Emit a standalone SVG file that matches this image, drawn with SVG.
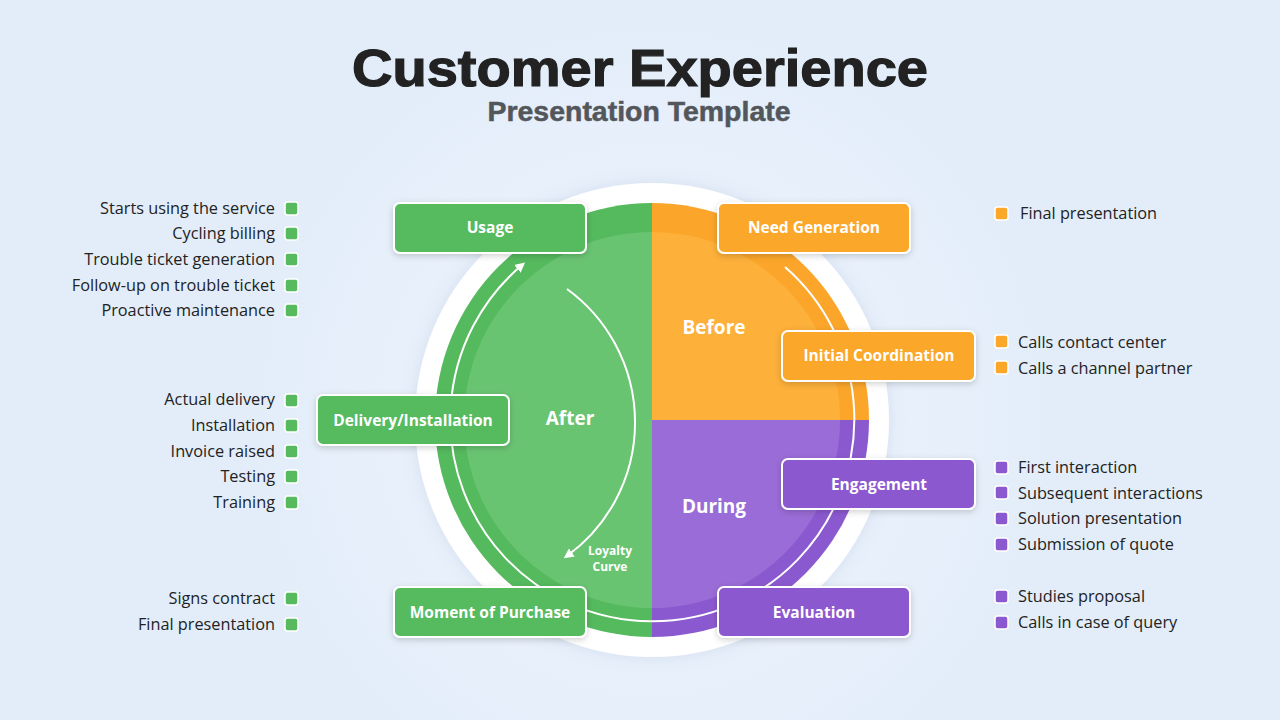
<svg xmlns="http://www.w3.org/2000/svg" width="1280" height="720" viewBox="0 0 1280 720">
  <defs>
    <radialGradient id="bgGlow" cx="652" cy="420" r="420" gradientUnits="userSpaceOnUse">
      <stop offset="0" stop-color="#f1f6fd"/>
      <stop offset="0.6" stop-color="#e8f0fb"/>
      <stop offset="1" stop-color="#e2edf9"/>
    </radialGradient>
    <filter id="shadow" x="-20%" y="-20%" width="140%" height="140%">
      <feDropShadow dx="0" dy="2" stdDeviation="3" flood-color="#000" flood-opacity="0.18"/>
    </filter>
    <filter id="softShadow" x="-20%" y="-20%" width="140%" height="140%">
      <feDropShadow dx="0" dy="0" stdDeviation="8" flood-color="#6a86b0" flood-opacity="0.18"/>
    </filter>
    <marker id="arrow" viewBox="0 0 10 10" refX="6" refY="5" markerWidth="10" markerHeight="10" markerUnits="userSpaceOnUse" orient="auto">
      <path d="M0,0 L10,5 L0,10 Z" fill="#ffffff"/>
    </marker>
    <style>
      .list { font-family: "Open Sans", "Liberation Sans", sans-serif; font-size: 16.3px; fill: #222222; }
      .r { text-anchor: end; }
      .box { stroke: #ffffff; stroke-width: 2; filter: url(#shadow); }
      .boxlbl { font-family: "Open Sans", "Liberation Sans", sans-serif; font-size: 15.5px; font-weight: 700; fill: #ffffff; text-anchor: middle; }
      .phase { font-family: "Open Sans", "Liberation Sans", sans-serif; font-size: 19px; font-weight: 700; fill: #ffffff; text-anchor: middle; }
      .bul { stroke: #ffffff; stroke-width: 1.5; }
      .green { fill: #57ba5f; }
      .orange { fill: #fba72a; }
      .purple { fill: #8b59cf; }
      .wline { fill: none; stroke: #ffffff; stroke-width: 2; }
    </style>
  </defs>

  <rect x="0" y="0" width="1280" height="720" fill="url(#bgGlow)"/>

  <g id="title">
    <text x="640" y="86" text-anchor="middle" font-family="Liberation Sans, Arial, sans-serif" font-weight="700" font-size="52" fill="#222222" stroke="#222222" stroke-width="1.2" textLength="576" lengthAdjust="spacingAndGlyphs">Customer Experience</text>
    <text x="639" y="121" text-anchor="middle" font-family="Liberation Sans, Arial, sans-serif" font-weight="700" font-size="27" fill="#53575c" stroke="#53575c" stroke-width="0.5" textLength="303" lengthAdjust="spacingAndGlyphs">Presentation Template</text>
  </g>

  <g id="wheel">
    <circle cx="652" cy="420" r="237" fill="#ffffff" filter="url(#softShadow)"/>
    <path d="M652,420 L652,203 A217,217 0 0 0 652,637 Z" fill="#55b95d"/>
    <path d="M652,420 L652,203 A217,217 0 0 1 869,420 Z" fill="#fba62a"/>
    <path d="M652,420 L869,420 A217,217 0 0 1 652,637 Z" fill="#8b59cf"/>
    <path d="M652,420 L652,232 A188,188 0 0 0 652,608 Z" fill="#69c472"/>
    <path d="M652,420 L652,232 A188,188 0 0 1 840,420 Z" fill="#fdb03a"/>
    <path d="M652,420 L840,420 A188,188 0 0 1 652,608 Z" fill="#9a6cd7"/>
  </g>

  <g id="connectors">
    <path class="wline" d="M785,267 A202,202 0 1 1 522,265" marker-end="url(#arrow)"/>
    <path class="wline" d="M567,289 A165,165 0 0 1 567,556" marker-end="url(#arrow)"/>
  </g>

  <g id="phase-labels">
    <text class="phase" x="714" y="334">Before</text>
    <text class="phase" x="570" y="425">After</text>
    <text class="phase" x="714" y="513">During</text>
    <text x="610" y="555" font-family="Open Sans, Liberation Sans, sans-serif" font-size="12" font-weight="700" fill="#ffffff" text-anchor="middle">Loyalty</text>
    <text x="610" y="571" font-family="Open Sans, Liberation Sans, sans-serif" font-size="12" font-weight="700" fill="#ffffff" text-anchor="middle">Curve</text>
  </g>

  <g id="node-usage">
    <rect class="box green" x="394" y="203" width="192" height="50" rx="6"/>
    <text class="boxlbl" x="490" y="233">Usage</text>
  </g>
  <g id="node-need-generation">
    <rect class="box orange" x="718" y="203" width="192" height="50" rx="6"/>
    <text class="boxlbl" x="814" y="233">Need Generation</text>
  </g>
  <g id="node-initial-coordination">
    <rect class="box orange" x="782" y="331" width="193" height="50" rx="6"/>
    <text class="boxlbl" x="879" y="361">Initial Coordination</text>
  </g>
  <g id="node-delivery-installation">
    <rect class="box green" x="317" y="395" width="192" height="50" rx="6"/>
    <text class="boxlbl" x="413" y="426">Delivery/Installation</text>
  </g>
  <g id="node-engagement">
    <rect class="box purple" x="782" y="459" width="193" height="50" rx="6"/>
    <text class="boxlbl" x="879" y="490">Engagement</text>
  </g>
  <g id="node-moment-of-purchase">
    <rect class="box green" x="394" y="587" width="192" height="50" rx="6"/>
    <text class="boxlbl" x="490" y="618">Moment of Purchase</text>
  </g>
  <g id="node-evaluation">
    <rect class="box purple" x="718" y="587" width="192" height="50" rx="6"/>
    <text class="boxlbl" x="814" y="618">Evaluation</text>
  </g>

  <g id="list-usage">
    <text class="list r" x="275" y="214">Starts using the service</text>
    <text class="list r" x="275" y="239">Cycling billing</text>
    <text class="list r" x="275" y="265">Trouble ticket generation</text>
    <text class="list r" x="275" y="291">Follow-up on trouble ticket</text>
    <text class="list r" x="275" y="316">Proactive maintenance</text>
    <rect class="bul green" x="285" y="202" width="13" height="13" rx="2.5"/>
    <rect class="bul green" x="285" y="227" width="13" height="13" rx="2.5"/>
    <rect class="bul green" x="285" y="253" width="13" height="13" rx="2.5"/>
    <rect class="bul green" x="285" y="279" width="13" height="13" rx="2.5"/>
    <rect class="bul green" x="285" y="304" width="13" height="13" rx="2.5"/>
  </g>

  <g id="list-delivery">
    <text class="list r" x="275" y="405">Actual delivery</text>
    <text class="list r" x="275" y="431">Installation</text>
    <text class="list r" x="275" y="457">Invoice raised</text>
    <text class="list r" x="275" y="482">Testing</text>
    <text class="list r" x="275" y="508">Training</text>
    <rect class="bul green" x="285" y="394" width="13" height="13" rx="2.5"/>
    <rect class="bul green" x="285" y="419" width="13" height="13" rx="2.5"/>
    <rect class="bul green" x="285" y="445" width="13" height="13" rx="2.5"/>
    <rect class="bul green" x="285" y="470" width="13" height="13" rx="2.5"/>
    <rect class="bul green" x="285" y="496" width="13" height="13" rx="2.5"/>
  </g>

  <g id="list-purchase">
    <text class="list r" x="275" y="604">Signs contract</text>
    <text class="list r" x="275" y="630">Final presentation</text>
    <rect class="bul green" x="285" y="592" width="13" height="13" rx="2.5"/>
    <rect class="bul green" x="285" y="618" width="13" height="13" rx="2.5"/>
  </g>

  <g id="list-need">
    <rect class="bul orange" x="995" y="207" width="13" height="13" rx="2.5"/>
    <text class="list" x="1020" y="219">Final presentation</text>
  </g>

  <g id="list-initial">
    <rect class="bul orange" x="995" y="335" width="13" height="13" rx="2.5"/>
    <rect class="bul orange" x="995" y="361" width="13" height="13" rx="2.5"/>
    <text class="list" x="1018" y="348">Calls contact center</text>
    <text class="list" x="1018" y="374">Calls a channel partner</text>
  </g>

  <g id="list-engagement">
    <rect class="bul purple" x="995" y="461" width="13" height="13" rx="2.5"/>
    <rect class="bul purple" x="995" y="486" width="13" height="13" rx="2.5"/>
    <rect class="bul purple" x="995" y="512" width="13" height="13" rx="2.5"/>
    <rect class="bul purple" x="995" y="538" width="13" height="13" rx="2.5"/>
    <text class="list" x="1018" y="473">First interaction</text>
    <text class="list" x="1018" y="499">Subsequent interactions</text>
    <text class="list" x="1018" y="524">Solution presentation</text>
    <text class="list" x="1018" y="550">Submission of quote</text>
  </g>

  <g id="list-evaluation">
    <rect class="bul purple" x="995" y="590" width="13" height="13" rx="2.5"/>
    <rect class="bul purple" x="995" y="616" width="13" height="13" rx="2.5"/>
    <text class="list" x="1018" y="602">Studies proposal</text>
    <text class="list" x="1018" y="628">Calls in case of query</text>
  </g>
</svg>
